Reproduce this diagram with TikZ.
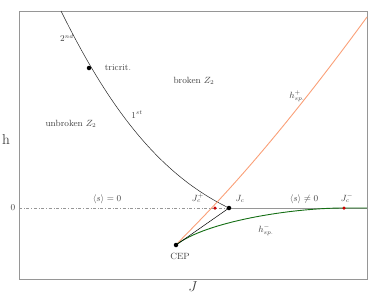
\documentclass[tikz,border=0pt]{standalone}
\usepackage{amsmath,amssymb}
\usetikzlibrary{calc}
\definecolor{spplus}{RGB}{250,160,120}
\definecolor{spminus}{RGB}{20,110,20}
\definecolor{axisgray}{RGB}{150,150,150}

\begin{document}
\begin{tikzpicture}[x=1pt,y=-1pt,
    lbl/.style={font=\small,text=black!75,inner sep=1pt},
    dot/.style={circle,fill=black,inner sep=0pt,minimum size=4.5pt},
    reddot/.style={circle,fill=red!80!black,inner sep=0pt,minimum size=3.5pt}]
  \useasboundingbox (0,0) rectangle (380,298);
  % special points of the diagram
  \coordinate (CEP) at (176,245);
  \coordinate (Jc) at (229,208);
  \coordinate (Jcp) at (215,208);
  \coordinate (Jcm) at (344,208);
  \coordinate (tri) at (89,68);
  \coordinate (west) at (19,208);
  \coordinate (east) at (367,208);
  \coordinate (top) at (61,11);
  % frame
  \draw[axisgray,line width=0.8pt] (19,11) rectangle (367,279);
  % line h = 0: dash-dotted left of J_c, solid right of it
  \draw[axisgray,dash dot,line width=0.8pt] (west) -- (Jc);
  \draw[axisgray,line width=0.8pt] (Jc) -- (east);
  % first/second order line through the tricritical point
  \draw[black!85,line width=0.5pt] (top) .. controls (106,102) and (156,173) .. (Jc);
  % spinodal h_sp^+
  \draw[spplus,line width=0.9pt] (CEP) .. controls (198,221) and (255,170) .. (367,17);
  % spinodal h_sp^-
  \draw[spminus,line width=0.9pt] (CEP) .. controls (205,222) and (290,208) .. (Jcm) -- (east);
  % CEP to J_c
  \draw[black,line width=0.5pt] (CEP) -- (Jc);
  % markers
  \node[dot] (nCEP) at (CEP) {};
  \node[dot] (nJc) at (Jc) {};
  \node[dot] (ntri) at (tri) {};
  \node[reddot] (nJcp) at (Jcp) {};
  \node[reddot] (nJcm) at (Jcm) {};
  % labels
  \node[lbl] at (67,38) {$2^{nd}$};
  \node[lbl] at (118,68) {tricrit.};
  \node[lbl] at (194,81) {broken $Z_2$};
  \node[lbl] at (137,115) {$1^{st}$};
  \node[lbl] at (71,124) {unbroken $Z_2$};
  \node[lbl] at (107,199) {$\langle s\rangle=0$};
  \node[lbl] at (304,199) {$\langle s\rangle\neq0$};
  \node[lbl] at (198,198) {$J_c^+$};
  \node[lbl] at (240,199) {$J_c$};
  \node[lbl] at (347,198) {$J_c^-$};
  \node[lbl] at (297,96) {$h_{sp.}^+$};
  \node[lbl] at (266,230) {$h_{sp.}^-$};
  \node[lbl] at (180,256) {CEP};
  \node[lbl] at (13,208) {$0$};
  \node[font=\Large,text=black!75] at (6,139) {h};
  \node[font=\Large,text=black!75] at (193,287) {$J$};
\end{tikzpicture}
\end{document}
